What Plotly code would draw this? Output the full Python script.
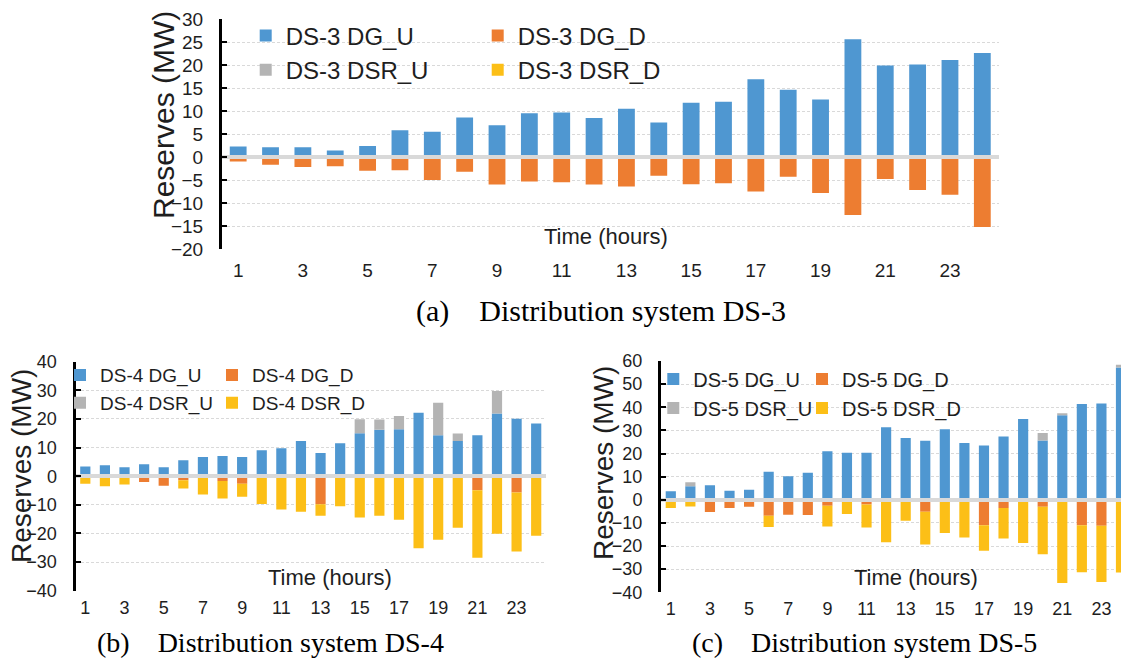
import plotly.graph_objects as go

# ---------------- data ----------------
hours = [1, 2, 3, 4, 5, 6, 7, 8, 9, 10, 11, 12, 13, 14, 15, 16, 17, 18, 19, 20, 21, 22, 23, 24]
tick_hours = [1, 3, 5, 7, 9, 11, 13, 15, 17, 19, 21, 23]
tick_labels = ["1", "3", "5", "7", "9", "11", "13", "15", "17", "19", "21", "23"]

series_keys = ["DG_U", "DG_D", "DSR_U", "DSR_D"]

ds3_dg_u = [2.3, 2.1, 2.1, 1.4, 2.4, 5.8, 5.5, 8.6, 6.9, 9.5, 9.7, 8.5, 10.5, 7.5, 11.8, 12.0, 16.9, 14.6, 12.5, 25.6, 19.9, 20.1, 21.1, 22.6]
ds3_dg_d = [-1.0, -1.7, -2.2, -2.0, -3.0, -2.9, -5.0, -3.2, -6.0, -5.3, -5.5, -6.0, -6.4, -4.1, -5.9, -5.7, -7.5, -4.3, -7.8, -12.6, -4.8, -7.2, -8.2, -15.2]
ds3_dsr_u = [0, 0, 0, 0, 0, 0, 0, 0, 0, 0, 0, 0, 0, 0, 0, 0, 0, 0, 0, 0, 0, 0, 0, 0]
ds3_dsr_d = [0, 0, 0, 0, 0, 0, 0, 0, 0, 0, 0, 0, 0, 0, 0, 0, 0, 0, 0, 0, 0, 0, 0, 0]

ds4_dg_u = [3.4, 3.8, 3.1, 4.2, 3.1, 5.6, 6.7, 7.1, 6.7, 9.1, 9.8, 12.3, 8.1, 11.5, 15.0, 16.2, 16.4, 22.2, 14.3, 12.3, 14.3, 21.9, 20.1, 18.4]
ds4_dg_d = [0, -0.5, 0, -2.0, -3.3, -1.4, 0, -1.7, -2.6, 0, -0.5, -0.5, -9.8, 0, 0, 0, 0, 0, 0, 0, -4.9, 0, -5.7, 0]
ds4_dsr_u = [0, 0, 0, 0, 0, 0, 0, 0, 0, 0, 0, 0, 0, 0, 4.9, 3.6, 4.6, 0, 11.4, 2.6, 0, 7.9, 0, 0]
ds4_dsr_d = [-2.6, -3.0, -2.9, 0, 0, -2.9, -6.4, -6.1, -4.6, -9.7, -11.1, -11.9, -4.0, -10.5, -14.4, -13.8, -15.2, -25.2, -22.2, -18.0, -23.6, -20.1, -20.6, -20.8]

ds5_dg_u = [3.7, 5.8, 6.3, 3.9, 4.3, 12.1, 10.2, 11.7, 21.0, 20.3, 20.3, 31.4, 26.7, 25.5, 30.5, 24.5, 23.5, 27.4, 34.9, 25.6, 36.5, 41.4, 41.6, 57.2]
ds5_dg_d = [0, 0, -5.3, -3.5, -3.0, -6.9, -6.5, -6.6, -2.6, 0, -2.0, 0, 0, -5.2, 0, 0, -11.0, -3.5, 0, -3.0, 0, -11.0, -11.2, 0]
ds5_dsr_u = [0, 1.8, 0, 0, 0, 0, 0, 0, 0, 0, 0, 0, 0, 0, 0, 0, 0, 0, 0, 3.3, 0.9, 0, 0, 1.2]
ds5_dsr_d = [-3.6, -2.9, 0, 0, 0, -4.9, 0, 0, -8.9, -6.2, -10.0, -18.4, -9.1, -14.1, -14.4, -16.3, -11.0, -13.2, -18.7, -20.5, -36.0, -20.3, -24.4, -31.4]

colors = {"DG_U": "#4f97d1", "DG_D": "#ed7d31", "DSR_U": "#b4b4b4", "DSR_D": "#fcbf17"}

W, H = 1121, 663
def px(x):
    return x / W
def py(y):
    return 1 - y / H

SANS = "Liberation Sans, Arial, sans-serif"
SERIF = "Liberation Serif, Times New Roman, serif"
TXT = "#1e1e1e"

panels = [
    dict(name="DS-3", data=dict(DG_U=ds3_dg_u, DG_D=ds3_dg_d, DSR_U=ds3_dsr_u, DSR_D=ds3_dsr_d),
         xa="x", ya="y", legs=("legend", "legend2")),
    dict(name="DS-4", data=dict(DG_U=ds4_dg_u, DG_D=ds4_dg_d, DSR_U=ds4_dsr_u, DSR_D=ds4_dsr_d),
         xa="x2", ya="y2", legs=("legend3", "legend4")),
    dict(name="DS-5", data=dict(DG_U=ds5_dg_u, DG_D=ds5_dg_d, DSR_U=ds5_dsr_u, DSR_D=ds5_dsr_d),
         xa="x3", ya="y3", legs=("legend5", "legend6")),
]

fig = go.Figure()
for p in panels:
    for s in series_keys:
        col = 0 if s.endswith("_U") else 1
        fig.add_trace(go.Bar(
            x=hours, y=p["data"][s], name=f"{p['name']} {s}",
            marker=dict(color=colors[s], line=dict(width=0)),
            xaxis=p["xa"], yaxis=p["ya"], legend=p["legs"][col],
        ))

def yaxis_style(rng, dtick, domain, anchor, fs):
    return dict(
        domain=domain, anchor=anchor, range=rng, dtick=dtick, tick0=0,
        showline=True, linecolor="black", linewidth=3,
        ticks="inside", ticklen=5, tickwidth=2, tickcolor="black",
        showgrid=True, gridcolor="#d9d9d9", gridwidth=1, griddash="3px,2px",
        zeroline=True, zerolinecolor="#d9d9d9", zerolinewidth=4,
        tickfont=dict(family=SANS, size=fs, color=TXT),
        ticklabelstandoff=12, fixedrange=True, automargin=False,
    )

def xaxis_style(rng, domain, anchor, fs, standoff):
    return dict(
        domain=domain, anchor=anchor, range=rng,
        tickmode="array", tickvals=tick_hours, ticktext=tick_labels,
        showline=False, showgrid=False, zeroline=False, ticks="",
        tickfont=dict(family=SANS, size=fs, color=TXT),
        ticklabelstandoff=standoff, fixedrange=True, automargin=False,
    )

def legend_style(x, ytop, fs):
    return dict(
        x=px(x), y=py(ytop), xanchor="left", yanchor="top", orientation="v",
        traceorder="normal", bgcolor="rgba(0,0,0,0)", borderwidth=0,
        font=dict(family=SANS, size=fs, color=TXT),
    )

fig.update_layout(
    template="none",
    width=W, height=H, margin=dict(l=0, r=0, t=0, b=0, pad=0, autoexpand=False),
    paper_bgcolor="white", plot_bgcolor="white",
    barmode="relative", bargap=0.48,
    xaxis=xaxis_style([0.5, 24.5], [px(222), px(998.5)], "y", 19, 8),
    yaxis=yaxis_style([-20, 30], 5, [py(249), py(19)], "x", 19),
    xaxis2=xaxis_style([0.5, 24.5], [px(75.5), px(546)], "y2", 18, 4),
    yaxis2=yaxis_style([-40, 40], 10, [py(590.7), py(361.7)], "x2", 18),
    xaxis3=xaxis_style([0.5, 24.0], [px(661), 1.0], "y3", 18, 4),
    yaxis3=yaxis_style([-40, 60], 10, [py(592.3), py(361)], "x3", 18),
    legend=legend_style(245.7, 13.4, 24),
    legend2=legend_style(477.7, 13.4, 24),
    legend3=legend_style(60, 356.2, 19),
    legend4=legend_style(212, 356.2, 19),
    legend5=legend_style(653.3, 359.5, 20),
    legend6=legend_style(802, 359.5, 20),
    showlegend=True,
)

try:
    fig.update_yaxes(zerolinelayer="above traces")
except Exception:
    pass

annotations = [
    # y titles
    dict(text="Reserves (MW)", x=px(163), y=py(115), font=dict(size=30, family=SANS, color=TXT), textangle=-90),
    dict(text="Reserves (MW)", x=px(22), y=py(466), font=dict(size=28, family=SANS, color=TXT), textangle=-90),
    dict(text="Reserves (MW)", x=px(603), y=py(463), font=dict(size=28, family=SANS, color=TXT), textangle=-90),
    # x titles inside plots
    dict(text="Time (hours)", x=px(606), y=py(236), font=dict(size=22, family=SANS, color=TXT)),
    dict(text="Time (hours)", x=px(330), y=py(577), font=dict(size=22, family=SANS, color=TXT)),
    dict(text="Time (hours)", x=px(916), y=py(577), font=dict(size=22, family=SANS, color=TXT)),
    # captions
    dict(text="(a)\u00a0\u00a0\u00a0\u00a0Distribution system DS-3", x=px(601), y=py(311), font=dict(size=30, family=SERIF, color="black")),
    dict(text="(b)\u00a0\u00a0\u00a0\u00a0Distribution system DS-4", x=px(270), y=py(642), font=dict(size=28, family=SERIF, color="black")),
    dict(text="(c)\u00a0\u00a0\u00a0\u00a0Distribution system DS-5", x=px(864), y=py(642), font=dict(size=28, family=SERIF, color="black")),
]
for a in annotations:
    a.update(xref="paper", yref="paper", xanchor="center", yanchor="middle", showarrow=False)
fig.update_layout(annotations=annotations)

fig.write_html("out.html")
